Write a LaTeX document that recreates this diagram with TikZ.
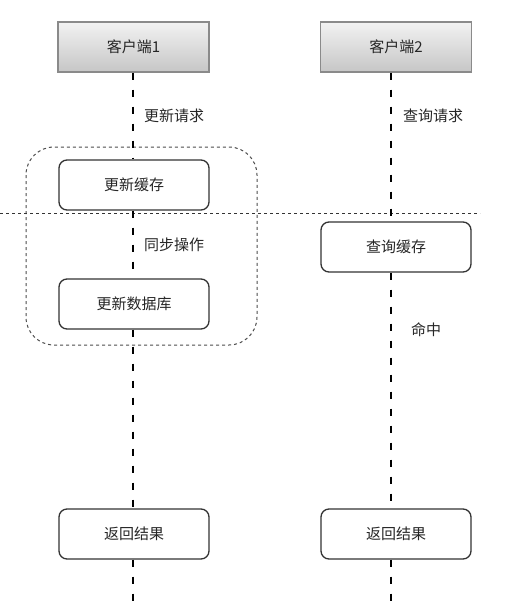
\documentclass[tikz,border=0pt]{standalone}
\usepackage{fontspec}
\newfontfamily\cjk{Noto Sans CJK SC}
\definecolor{boxline}{HTML}{333333}
\definecolor{cliline}{HTML}{8A8A8A}
\definecolor{clitop}{HTML}{F2F2F2}
\definecolor{clibot}{HTML}{C6C6C6}
\tikzset{
  client/.style={draw=cliline, line width=1.3pt, top color=clitop, bottom color=clibot,
    minimum width=151pt, minimum height=50pt, inner sep=0pt, font=\cjk\fontsize{15}{17}\selectfont, text=black!85},
  stepbox/.style={draw=boxline, line width=1.3pt, fill=white, rounded corners=8pt,
    minimum width=150pt, minimum height=50pt, inner sep=0pt, font=\cjk\fontsize{15}{17}\selectfont, text=black!85},
  lbl/.style={font=\cjk\fontsize{15}{17}\selectfont, text=black!85, anchor=west, inner sep=0pt},
  life/.style={draw=black, line width=2.3pt, dash pattern=on 7pt off 10pt},
  group/.style={draw=black!70, line width=1pt, dash pattern=on 3pt off 3pt, rounded corners=28pt},
  divider/.style={draw=black!80, line width=1pt, dash pattern=on 3pt off 3pt}
}
\begin{document}
\begin{tikzpicture}[x=1pt, y=-1pt]
\useasboundingbox (0,0) rectangle (504,611);
% group
\draw[group] (26,147) rectangle (257,345);
% divider
\coordinate (dl) at (0,213.5);
\coordinate (dr) at (480,213.5);
\draw[divider] (dl) -- (dr);
% nodes
\node[client] (c1) at (133.5,47) {客户端1};
\node[client] (c2) at (396,47) {客户端2};
\node[stepbox] (uc) at (134,185) {更新缓存};
\node[stepbox] (udb) at (134,304) {更新数据库};
\node[stepbox] (r1) at (134,534) {返回结果};
\node[stepbox] (qc) at (396,247) {查询缓存};
\node[stepbox] (r2) at (396,534) {返回结果};
\coordinate (e1) at (133,603);
\coordinate (e2) at (391,603);
% lifelines
\draw[life] (c1.south -| e1) -- (uc.north -| e1);
\draw[life] (uc.south -| e1) -- (udb.north -| e1);
\draw[life] (udb.south -| e1) -- (r1.north -| e1);
\draw[life] (r1.south -| e1) -- (e1);
\draw[life] (c2.south -| e2) -- (qc.north -| e2);
\draw[life] (qc.south -| e2) -- (r2.north -| e2);
\draw[life] (r2.south -| e2) -- (e2);
% labels
\node[lbl] (l1) at (144,116) {更新请求};
\node[lbl] (l2) at (403,116) {查询请求};
\node[lbl] (l3) at (144,245) {同步操作};
\node[lbl] (l4) at (411,330) {命中};
\end{tikzpicture}
\end{document}
